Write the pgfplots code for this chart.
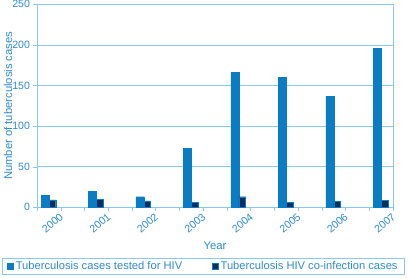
\documentclass[border=0pt]{standalone}
\usepackage{fontspec}
\setmainfont{Liberation Sans}
\usepackage{pgfplots}
\pgfplotsset{compat=1.18}

\definecolor{tbblue}{HTML}{0A7CC4}
\definecolor{tbdark}{HTML}{0D2D5C}
\definecolor{tbtext}{HTML}{2E8BD0}
\definecolor{tbgrid}{HTML}{8CC8EC}

\begin{document}
\begin{tikzpicture}
\begin{axis}[
    scale only axis,
    width=356bp,
    height=203bp,
    xmin=-0.25, xmax=7.25,
    ymin=0, ymax=250,
    ytick={0,50,100,150,200,250},
    xtick={0.25,1.25,2.25,3.25,4.25,5.25,6.25,7.25},
    minor xtick={-0.25,0.75,1.75,2.75,3.75,4.75,5.75,6.75},
    xticklabels={2000,2001,2002,2003,2004,2005,2006,2007},
    x tick label style={xshift=-1.5bp, yshift=-1.5bp, rotate=40, anchor=north east, inner sep=0pt},
    tick label style={font=\fontsize{10.6}{11}\selectfont, text=tbtext},
    /pgf/number format/assume math mode=true,
    xlabel={Year},
    ylabel={Number of tuberculosis cases},
    label style={font=\fontsize{11.3}{12}\selectfont, text=tbtext},
    xlabel style={at={(axis description cs:0.5,0)}, anchor=center, yshift=-38bp},
    ylabel style={at={(axis description cs:0,0.5)}, anchor=center, yshift=29bp},
    axis line style={tbgrid},
    every tick/.style={tbgrid},
    ymajorgrids,
    grid style={tbgrid, line width=0.5pt},
    tick align=outside,
    major tick length=3.5bp,
    minor tick length=3.5bp,
    xtick pos=bottom, ytick pos=left,
    legend columns=2,
    legend style={at={(axis description cs:0.5,0)}, anchor=north,
        xshift=-11.5bp, yshift=-50.7bp, draw=tbgrid,
        font=\fontsize{11.2}{12}\selectfont, text=tbtext,
        /tikz/every even column/.append style={column sep=28bp},
        inner xsep=5bp, inner ysep=1bp},
    legend image code/.code={\fill[#1] (0bp,-3bp) rectangle (6bp,3bp);},
]
\addplot[ybar, bar width=0.17, bar shift=-0.08, fill=tbblue, draw=tbblue]
    coordinates {(0,15) (1,20) (2,13) (3,73) (4,166) (5,160) (6,137) (7,196)};
\addlegendentry{Tuberculosis cases tested for HIV}
\addplot[ybar, bar width=0.14, bar shift=0.075, fill=tbdark, draw=tbblue]
    coordinates {(0,9) (1,10) (2,8) (3,6) (4,13) (5,6) (6,7) (7,8.5)};
\addlegendentry{Tuberculosis HIV co-infection cases}
\end{axis}
\pgfresetboundingbox
\path ([xshift=-37bp,yshift=-71.7bp]current axis.south west) rectangle ([xshift=15bp,yshift=4.3bp]current axis.north east);
\end{tikzpicture}
\end{document}
